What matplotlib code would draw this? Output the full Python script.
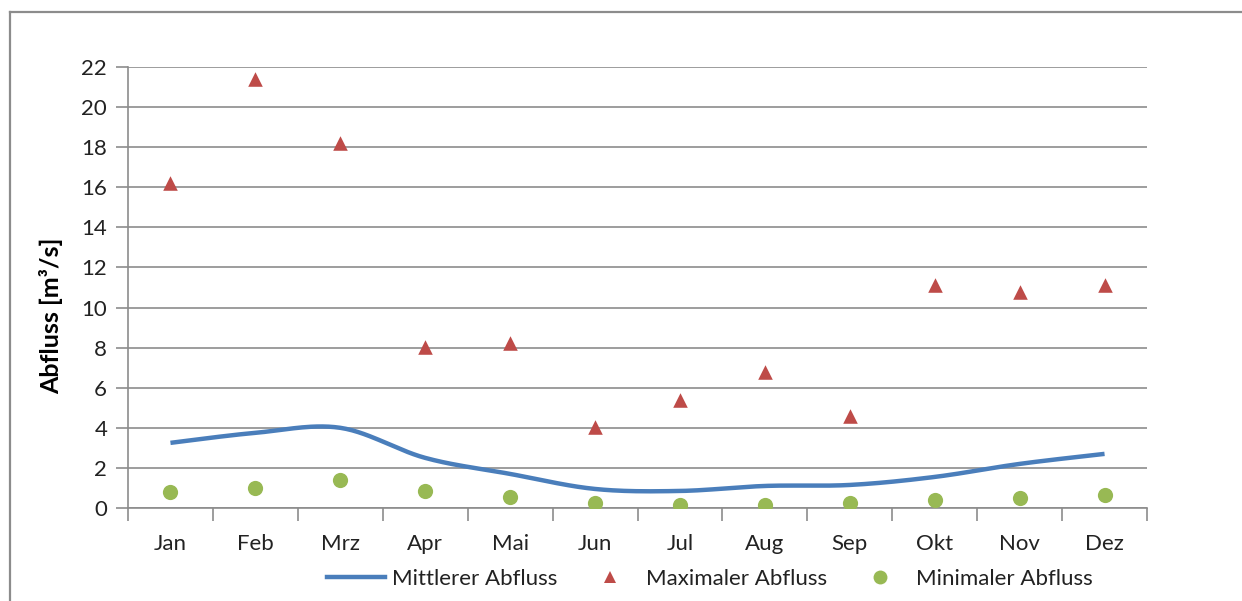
import numpy as np
import matplotlib
matplotlib.use("Agg")
import matplotlib.pyplot as plt
from matplotlib.lines import Line2D

months = ["Jan", "Feb", "Mrz", "Apr", "Mai", "Jun", "Jul", "Aug", "Sep", "Okt", "Nov", "Dez"]
mittel = [3.25, 3.75, 4.0, 2.5, 1.7, 0.95, 0.85, 1.1, 1.15, 1.55, 2.2, 2.7]
maximal = [16.2, 21.4, 18.2, 8.05, 8.25, 4.05, 5.4, 6.8, 4.6, 11.1, 10.8, 11.1]
minimal = [0.8, 1.0, 1.4, 0.85, 0.55, 0.25, 0.15, 0.15, 0.25, 0.4, 0.5, 0.65]
yticks = [0, 2, 4, 6, 8, 10, 12, 14, 16, 18, 20, 22]

plt.rcParams['font.family'] = ['Lato', 'DejaVu Sans']

W, H = 1242, 601
fig = plt.figure(figsize=(W / 100, H / 100), dpi=100)

# outer chart frame (partially cropped)
frame_col = '#8c8c8c'
fig.add_artist(Line2D([10 / W, 10 / W], [0, 1 - 12 / H], color=frame_col, lw=1.6, transform=fig.transFigure))
fig.add_artist(Line2D([10 / W, 1.0], [1 - 12 / H, 1 - 12 / H], color=frame_col, lw=1.6, transform=fig.transFigure))

ax = fig.add_axes([128 / W, 1 - 508 / H, (1147 - 128) / W, (508 - 67) / H])

x = np.arange(len(months))


def catmull_rom(xs, ys, n=30):
    xs = np.asarray(xs, float)
    ys = np.asarray(ys, float)
    px = np.concatenate([[2 * xs[0] - xs[1]], xs, [2 * xs[-1] - xs[-2]]])
    py = np.concatenate([[ys[0]], ys, [ys[-1]]])
    outx, outy = [], []
    for i in range(1, len(px) - 2):
        p0, p1, p2, p3 = np.array([px[i - 1], py[i - 1]]), np.array([px[i], py[i]]), np.array([px[i + 1], py[i + 1]]), np.array([px[i + 2], py[i + 2]])
        if i == 1:
            p0 = p1
        if i == len(px) - 3:
            p3 = p2
        c1 = p1 + (p2 - p0) / 6.0
        c2 = p2 - (p3 - p1) / 6.0
        t = np.linspace(0, 1, n)[:, None]
        pts = (1 - t) ** 3 * p1 + 3 * (1 - t) ** 2 * t * c1 + 3 * (1 - t) * t ** 2 * c2 + t ** 3 * p2
        outx.extend(pts[:, 0])
        outy.extend(pts[:, 1])
    return np.array(outx), np.array(outy)


sx, sy = catmull_rom(x, mittel)
ax.plot(sx, sy, color='#4a7ebb', lw=3.2, solid_capstyle='butt', zorder=3)
ax.scatter(x, maximal, marker='^', s=110, color='#be4b48', zorder=4, linewidths=0)
ax.scatter(x, minimal, marker='o', s=120, color='#98b954', zorder=4, linewidths=0)

ax.set_xlim(-0.5, len(months) - 0.5)
ax.set_ylim(0, 22)
ax.set_yticks(yticks)
ax.set_xticks(x)
ax.set_xticklabels(months)
ax.set_xticks(np.arange(-0.5, len(months), 1.0), minor=True)

grid_col = '#8c8c8c'
ax.grid(axis='y', color=grid_col, lw=1.2)
ax.set_axisbelow(True)
for s in ['top', 'right']:
    ax.spines[s].set_visible(False)
for s in ['left', 'bottom']:
    ax.spines[s].set_color(grid_col)
    ax.spines[s].set_linewidth(1.2)

ax.tick_params(axis='y', which='major', length=9, color=grid_col, width=1.2, labelsize=16, pad=6, labelcolor='#222222')
ax.tick_params(axis='x', which='major', length=0, labelsize=16, pad=19, labelcolor='#222222')
ax.tick_params(axis='x', which='minor', length=9, color=grid_col, width=1.2)

ax.set_ylabel('Abfluss [m³/s]', fontsize=18, fontweight='bold')
ax.yaxis.set_label_coords(-0.064, 0.435)

handles = [
    Line2D([], [], color='#4a7ebb', lw=3.2),
    Line2D([], [], marker='^', ls='none', color='#be4b48', markersize=9, markeredgewidth=0),
    Line2D([], [], marker='o', ls='none', color='#98b954', markersize=10, markeredgewidth=0),
]
labels = ['Mittlerer Abfluss', 'Maximaler Abfluss', 'Minimaler Abfluss']
fig.legend(handles, labels, loc='center', bbox_to_anchor=(710 / W, 1 - 579 / H), ncol=3,
           frameon=False, fontsize=16, handlelength=2.6, handletextpad=0.3, columnspacing=1.1,
           labelcolor='#222222')

fig.savefig('out.png', dpi=100)
